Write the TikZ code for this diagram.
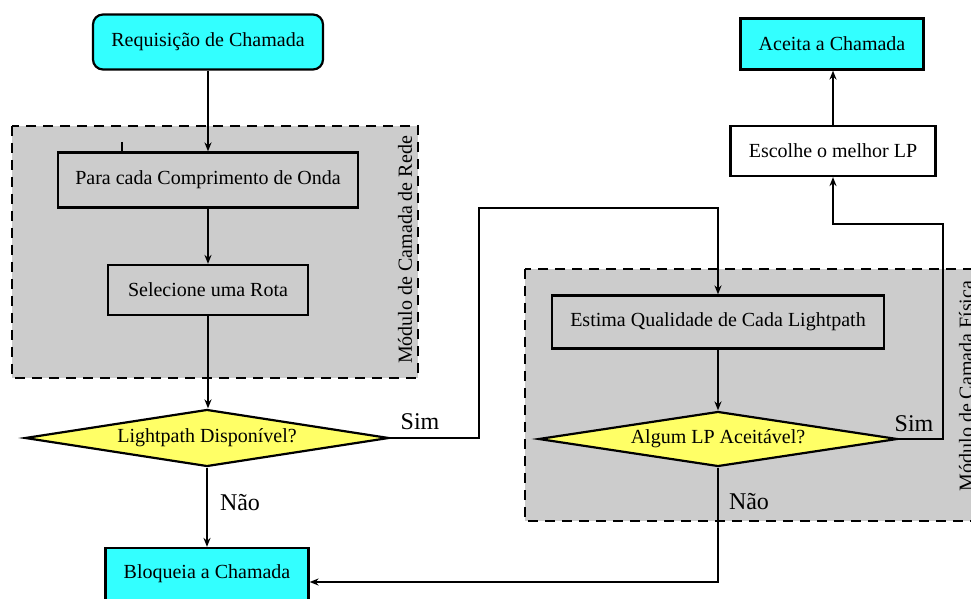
\documentclass[tikz,border=0pt]{standalone}
\usepackage{fontspec}
\setmainfont{Liberation Serif}
\usepackage{xcolor}
\usepackage{tikz}
\usetikzlibrary{shapes,arrows.meta,positioning,calc}

\definecolor{ciano}{HTML}{33FFFF}
\definecolor{amarelo}{HTML}{FFFF66}
\definecolor{cinza}{HTML}{CCCCCC}

\begin{document}
\begin{tikzpicture}[x=0.5pt,y=-0.5pt,
    caixa/.style={draw, line width=1.1pt, minimum height=25pt, inner sep=2pt},
    decisao/.style={diamond, draw, line width=1.1pt, fill=amarelo, inner sep=0pt, shape aspect=6.4},
    modulo/.style={draw, dash pattern=on 5pt off 3.5pt, line width=1pt, fill=cinza},
    seta/.style={-{Stealth[length=4.5pt,width=3.5pt]}, line width=0.9pt},
    rotulo/.style={font=\large}]
    \useasboundingbox (0,0) rectangle (971,599);

    % módulos (fundo)
    \draw[modulo] (12,126) rectangle (418,378);
    \draw[modulo] (525,269) rectangle (990,521);
    \node[rotate=90] (redeLbl) at (405,250) {Módulo de Camada de Rede};
    \node[rotate=90] (fisicaLbl) at (966,386) {Módulo de Camada Física};

    % coluna da esquerda
    \node[caixa, fill=ciano, rounded corners=5pt, minimum width=115pt, minimum height=27.5pt] (req) at (208,42) {Requisição de Chamada};
    \node[caixa, fill=cinza, minimum width=150pt, minimum height=27.5pt] (onda) at (208,180) {Para cada Comprimento de Onda};
    \node[caixa, fill=cinza, minimum width=100pt] (rota) at (208,290) {Selecione uma Rota};
    \node[decisao, minimum width=182pt, minimum height=28.5pt] (disp) at (207,438) {Lightpath Disponível?};
    \node[caixa, fill=ciano, minimum width=101.5pt, minimum height=26pt] (bloq) at (207,574) {Bloqueia a Chamada};

    % coluna da direita
    \node[caixa, fill=cinza, minimum width=166pt, minimum height=26.5pt] (estima) at (718,322) {Estima Qualidade de Cada Lightpath};
    \node[decisao, minimum width=179.5pt, minimum height=27.5pt] (aceit) at (718,439) {Algum LP Aceitável?};
    \node[caixa, fill=white, minimum width=102.5pt] (melhor) at (833,151) {Escolhe o melhor LP};
    \node[caixa, fill=ciano, minimum width=91.5pt, minimum height=25.5pt] (aceita) at (832,44) {Aceita a Chamada};

    % ligações
    \coordinate (marca) at (122,142);
    \coordinate (dobraA) at (479,208);
    \coordinate (dobraB) at (943,224);
    \draw[line width=1.4pt] (marca) -- ++(0,9);
    \draw[seta] (req) -- (onda);
    \draw[seta] (onda) -- (rota);
    \draw[seta] (rota.south) -- (rota.south |- disp.north);
    \draw[seta] (disp) -- (bloq);
    \draw[seta] (disp.east) -| (dobraA) -| (estima.north);
    \draw[seta] (estima) -- (aceit);
    \draw[seta] (aceit.south) |- ([yshift=-4pt]bloq.east);
    \draw[seta] (aceit.east) -| (dobraB) -| (melhor.south);
    \draw[seta] (melhor.north) -- (melhor.north |- aceita.south);

    % rótulos
    \node[rotulo] (simA) at (420,422) {Sim};
    \node[rotulo] (naoA) at (240,503) {Não};
    \node[rotulo] (simB) at (914,424) {Sim};
    \node[rotulo] (naoB) at (749,502) {Não};
\end{tikzpicture}
\end{document}
